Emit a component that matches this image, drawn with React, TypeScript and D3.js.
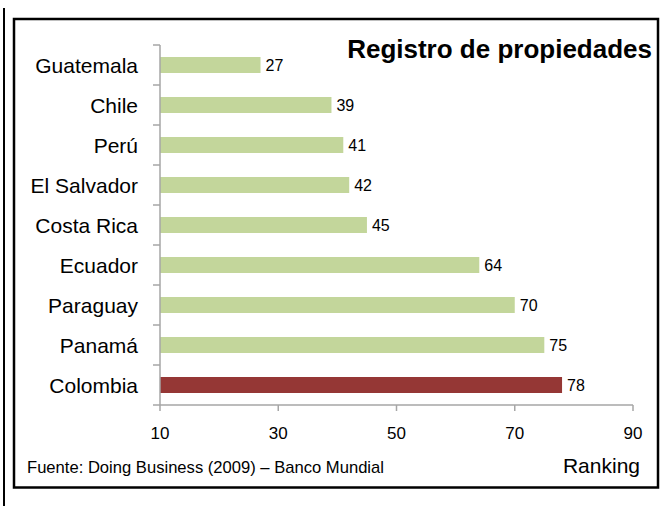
import React from "react";
import { useRef, useEffect } from "react";
import * as d3 from "d3";

const countries = [
  "Guatemala",
  "Chile",
  "Perú",
  "El Salvador",
  "Costa Rica",
  "Ecuador",
  "Paraguay",
  "Panamá",
  "Colombia",
];
const ranking = [27, 39, 41, 42, 45, 64, 70, 75, 78];
const xTicks = [10, 30, 50, 70, 90];
const highlight = "Colombia";

export default function App() {
  const chartRef = useRef<HTMLDivElement>(null);

  useEffect(() => {
    const width = 668;
    const height = 506;
    const data = countries.map((c, i) => ({ name: c, value: ranking[i] }));

    const x = d3.scaleLinear().domain([10, 90]).range([160, 633]);
    const y = d3.scaleBand().domain(countries).range([45, 405]).paddingInner(0.6).paddingOuter(0.3);
    const step = y.step();

    d3.select(chartRef.current).selectAll("*").remove();

    const svg = d3
      .select(chartRef.current)
      .append("svg")
      .attr("width", width)
      .attr("height", height)
      .style("position", "absolute")
      .style("left", "0px")
      .style("top", "0px")
      .style("font-family", "'Liberation Sans', Arial, sans-serif");

    svg.append("rect").attr("width", width).attr("height", height).attr("fill", "#fff");

    // left rule and frame
    svg.append("line").attr("x1", 4).attr("x2", 4).attr("y1", 8).attr("y2", height).attr("stroke", "#000").attr("stroke-width", 2);
    svg
      .append("rect")
      .attr("x", 14)
      .attr("y", 19)
      .attr("width", 644)
      .attr("height", 468.5)
      .attr("fill", "none")
      .attr("stroke", "#000")
      .attr("stroke-width", 2.5);

    // bars
    svg
      .append("g")
      .selectAll("rect")
      .data(data)
      .enter()
      .append("rect")
      .attr("x", x(10))
      .attr("y", (d) => y(d.name)!)
      .attr("width", (d) => x(d.value) - x(10))
      .attr("height", y.bandwidth())
      .attr("fill", (d) => (d.name === highlight ? "#953735" : "#C3D69B"));

    // value labels
    svg
      .append("g")
      .selectAll("text")
      .data(data)
      .enter()
      .append("text")
      .attr("x", (d) => x(d.value) + 5)
      .attr("y", (d) => y(d.name)! + y.bandwidth() / 2)
      .attr("dy", "0.36em")
      .attr("font-size", 16)
      .attr("fill", "#000")
      .text((d) => d.value);

    const axisColor = "#A6A6A6";

    // y axis
    const yAxis = svg.append("g");
    yAxis.append("line").attr("x1", 160).attr("x2", 160).attr("y1", 45).attr("y2", 405).attr("stroke", axisColor).attr("stroke-width", 1.5);
    yAxis
      .selectAll("line.tick")
      .data(d3.range(countries.length + 1))
      .enter()
      .append("line")
      .attr("class", "tick")
      .attr("x1", 153)
      .attr("x2", 160)
      .attr("y1", (i) => 45 + i * step)
      .attr("y2", (i) => 45 + i * step)
      .attr("stroke", axisColor)
      .attr("stroke-width", 1.5);
    yAxis
      .selectAll("text")
      .data(countries)
      .enter()
      .append("text")
      .attr("x", 138)
      .attr("y", (d) => y(d)! + y.bandwidth() / 2)
      .attr("dy", "0.36em")
      .attr("text-anchor", "end")
      .attr("font-size", 21)
      .attr("fill", "#000")
      .text((d) => d);

    // x axis
    const xAxis = svg.append("g");
    xAxis.append("line").attr("x1", x(10)).attr("x2", x(90)).attr("y1", 405).attr("y2", 405).attr("stroke", axisColor).attr("stroke-width", 1.5);
    xAxis
      .selectAll("line.tick")
      .data(xTicks)
      .enter()
      .append("line")
      .attr("class", "tick")
      .attr("x1", (d) => x(d))
      .attr("x2", (d) => x(d))
      .attr("y1", 405)
      .attr("y2", 411)
      .attr("stroke", axisColor)
      .attr("stroke-width", 1.5);
    xAxis
      .selectAll("text")
      .data(xTicks)
      .enter()
      .append("text")
      .attr("x", (d) => x(d))
      .attr("y", 439)
      .attr("text-anchor", "middle")
      .attr("font-size", 17)
      .attr("fill", "#000")
      .text((d) => d);

    // title and notes
    svg
      .append("text")
      .attr("x", 652)
      .attr("y", 58)
      .attr("text-anchor", "end")
      .attr("font-size", 26)
      .attr("font-weight", "bold")
      .attr("fill", "#000")
      .text("Registro de propiedades");

    svg
      .append("text")
      .attr("x", 27)
      .attr("y", 473)
      .attr("font-size", 16.6)
      .attr("fill", "#000")
      .text("Fuente: Doing Business (2009) – Banco Mundial");

    svg
      .append("text")
      .attr("x", 640)
      .attr("y", 473)
      .attr("text-anchor", "end")
      .attr("font-size", 21)
      .attr("fill", "#000")
      .text("Ranking");
  }, []);

  return <div ref={chartRef} />;
}
